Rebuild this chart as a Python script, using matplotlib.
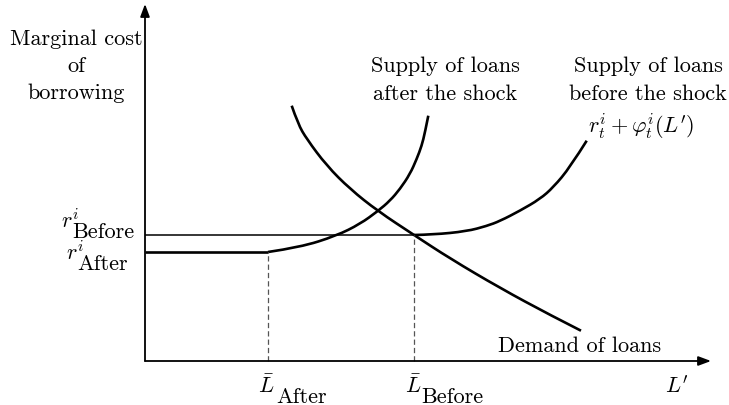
import matplotlib
matplotlib.use("Agg")
import matplotlib.pyplot as plt
from matplotlib.path import Path
from matplotlib.patches import PathPatch

# ---------------- data (economic diagram coordinates) ----------------
L_after = 123
L_before = 269
r_after = 109
r_before = 126

supply_after_x = [123, 155, 191.5, 215, 233, 245, 255, 265, 271.7, 276.7, 280, 283.3]
supply_after_y = [109, 113.7, 125.3, 137, 150, 160.3, 172, 187, 202, 215.3, 228.7, 245.3]

supply_before_x = [269, 288.3, 321.7, 341.7, 355, 375, 395, 408.3, 425, 441.7]
supply_before_y = [126, 126.4, 129.7, 135, 140, 150.3, 162, 173.7, 193.7, 220.3]

demand_x = [146.7, 153, 161.7, 181.7, 205, 232.7, 269, 305, 355, 405, 436]
demand_y = [255.3, 237, 222, 195.3, 172, 150, 126, 102.5, 73, 46, 30.3]

x_axis_end = 566
y_axis_end = 357

# ---------------- style ----------------
plt.rcParams['font.family'] = 'cmr10'
plt.rcParams['mathtext.fontset'] = 'cm'
plt.rcParams['axes.unicode_minus'] = False
plt.rcParams['lines.scale_dashes'] = False

fig = plt.figure(figsize=(7.29, 4.06), dpi=100)
ax = fig.add_axes([0, 0, 1, 1])
ax.set_xlim(-145, 584)
ax.set_ylim(-44, 362)
ax.axis('off')

FS = 16
curve_lw = 1.9


def smooth_curve(xs, ys):
    """Quadratic-Bezier path using the read points as control points."""
    pts = list(zip(xs, ys))
    verts = [pts[0]]
    codes = [Path.MOVETO]
    for i in range(1, len(pts) - 1):
        mid = ((pts[i][0] + pts[i + 1][0]) / 2, (pts[i][1] + pts[i + 1][1]) / 2)
        if i == len(pts) - 2:
            mid = pts[-1]
        verts += [pts[i], mid]
        codes += [Path.CURVE3, Path.CURVE3]
    return Path(verts, codes)


# axes with arrows
arrow = dict(arrowstyle='-|>,head_length=0.75,head_width=0.28', lw=1.3,
             color='black', shrinkA=0, shrinkB=0, mutation_scale=10)
ax.annotate('', xy=(0, y_axis_end), xytext=(0, 0), arrowprops=arrow)
ax.annotate('', xy=(x_axis_end, 0), xytext=(0, 0), arrowprops=arrow)

# horizontal rate lines
ax.plot([0, L_before], [r_before, r_before], color='black', lw=1.1,
        solid_capstyle='butt')
ax.plot([0, L_after], [r_after, r_after], color='black', lw=curve_lw,
        solid_capstyle='butt')

# dashed verticals
ax.plot([L_after, L_after], [0, r_after], color='#555555', lw=0.9,
        ls=(0, (3.8, 2.2)))
ax.plot([L_before, L_before], [0, r_before], color='#555555', lw=0.9,
        ls=(0, (3.8, 2.2)))

# curves
for xs, ys in [(supply_after_x, supply_after_y),
               (supply_before_x, supply_before_y),
               (demand_x, demand_y)]:
    ax.add_patch(PathPatch(smooth_curve(xs, ys), fill=False, edgecolor='black',
                           lw=curve_lw, capstyle='butt', joinstyle='round'))

# ---------------- texts ----------------
for txt, y in [("Marginal cost", 317), ("of", 290), ("borrowing", 263)]:
    ax.text(-69, y, txt, ha='center', va='baseline', fontsize=FS)

for txt, y in [("Supply of loans", 290), ("after the shock", 262)]:
    ax.text(300, y, txt, ha='center', va='baseline', fontsize=FS)

for txt, y in [("Supply of loans", 290), ("before the shock", 262)]:
    ax.text(503, y, txt, ha='center', va='baseline', fontsize=FS)
ax.text(496, 229, r"$r_t^i+\varphi_t^i(L')$", ha='center', va='baseline',
        fontsize=FS)

ax.text(435, 10, "Demand of loans", ha='center', va='baseline', fontsize=FS)

# y-axis level labels (full-size subscripts, as in the original)
ax.text(-66, 134, r"$r^i$", ha='right', va='baseline', fontsize=FS)
ax.text(-73, 124.3, "Before", ha='left', va='baseline', fontsize=FS)
ax.text(-61, 102, r"$r^i$", ha='right', va='baseline', fontsize=FS)
ax.text(-68, 92, "After", ha='left', va='baseline', fontsize=FS)

# x-axis labels
ax.text(113, -31, r"$\bar{L}$", ha='left', va='baseline', fontsize=FS)
ax.text(131, -41, "After", ha='left', va='baseline', fontsize=FS)
ax.text(260, -31, r"$\bar{L}$", ha='left', va='baseline', fontsize=FS)
ax.text(276, -41, "Before", ha='left', va='baseline', fontsize=FS)
ax.text(532, -31, r"$L'$", ha='center', va='baseline', fontsize=FS)

fig.savefig("out.png", dpi=100)
